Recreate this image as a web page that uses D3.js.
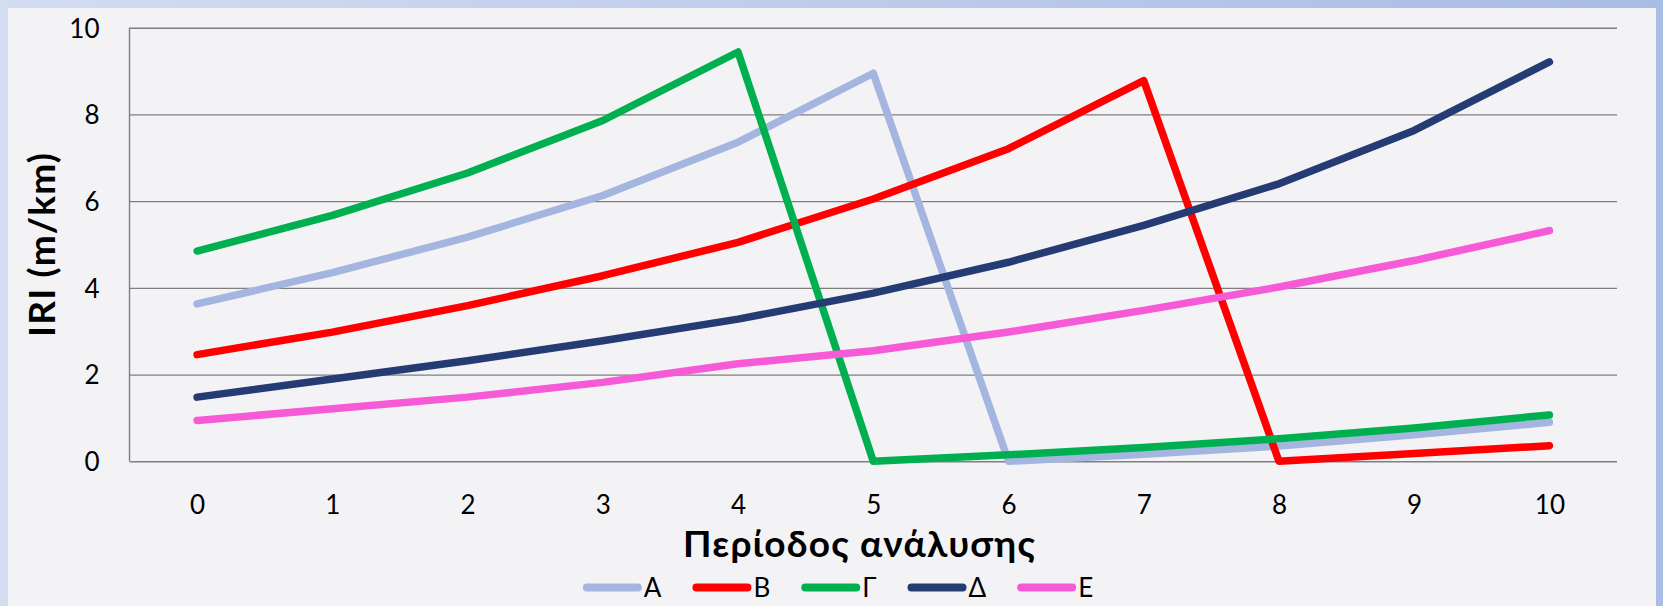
<!DOCTYPE html>
<html>
<head>
<meta charset="utf-8">
<script src="https://cdn.jsdelivr.net/npm/d3@7"></script>
<style>
  html, body { margin: 0; padding: 0; background: #f3f3f6; }
  svg { display: block; font-family: Lato, "Open Sans", "Noto Sans", sans-serif; }
</style>
</head>
<body>
<svg id="chart" width="1663" height="606"></svg>
<script>
// Analysis periods (x categories)
const periods = [0, 1, 2, 3, 4, 5, 6, 7, 8, 9, 10];

// IRI (m/km) per road section over the analysis period
const seriesNames = ["A", "B", "Γ", "Δ", "E"];
const valuesA = [3.63, 4.35, 5.17, 6.13, 7.36, 8.95, 0.00, 0.16, 0.35, 0.61, 0.90];
const valuesB = [2.46, 2.98, 3.59, 4.28, 5.05, 6.05, 7.21, 8.78, 0.00, 0.18, 0.36];
const valuesG = [4.85, 5.67, 6.65, 7.86, 9.44, 0.00, 0.15, 0.32, 0.52, 0.77, 1.07];
const valuesD = [1.48, 1.90, 2.32, 2.78, 3.28, 3.88, 4.59, 5.44, 6.40, 7.63, 9.21];
const valuesE = [0.94, 1.21, 1.48, 1.82, 2.25, 2.55, 2.98, 3.48, 4.02, 4.63, 5.32];
const seriesColors = ["#a4b6e0", "#ff0000", "#00b050", "#243c73", "#f65ad6"];

// Y axis ticks
const yTicks = [0, 2, 4, 6, 8, 10];

const xTitle = "Περίοδος ανάλυσης";
const yTitle = "IRI (m/km)";

const series = seriesNames.map((name, i) => ({
  name,
  color: seriesColors[i],
  values: [valuesA, valuesB, valuesG, valuesD, valuesE][i]
}));

const W = 1663, H = 606;
const plot = { left: 129.5, right: 1617, top: 27.7, bottom: 461.3 };

const svg = d3.select("#chart");

// Frame: blue gradient band behind a light panel
const defs = svg.append("defs");
const grad = defs.append("linearGradient").attr("id", "frameGrad")
  .attr("x1", "0").attr("x2", "1").attr("y1", "0").attr("y2", "0");
grad.append("stop").attr("offset", "0").attr("stop-color", "#d3dcf1");
grad.append("stop").attr("offset", "1").attr("stop-color", "#a9bce4");
svg.append("rect").attr("width", W).attr("height", H).attr("fill", "url(#frameGrad)");
svg.append("rect").attr("x", 8).attr("y", 8).attr("width", 1648).attr("height", H)
  .attr("fill", "#f3f3f6");

const x = d3.scalePoint().domain(periods).range([plot.left, plot.right]).padding(0.5);
const y = d3.scaleLinear().domain([0, 10]).range([plot.bottom, plot.top]);

// Horizontal gridlines with y tick labels
const yAxis = svg.append("g")
  .attr("transform", `translate(${plot.left},0)`)
  .call(d3.axisLeft(y).tickValues(yTicks).tickSize(-(plot.right - plot.left)).tickPadding(30));
yAxis.select(".domain").remove();
yAxis.selectAll(".tick line").attr("stroke", "#7f7f7f").attr("stroke-width", 1.4);
yAxis.selectAll(".tick text")
  .attr("font-size", 26).attr("fill", "#000").attr("dy", "0.36em")
  .attr("font-family", "Lato, 'Open Sans', sans-serif");

// Vertical axis line on the left of the plot
svg.append("line")
  .attr("x1", plot.left).attr("x2", plot.left)
  .attr("y1", plot.top).attr("y2", plot.bottom)
  .attr("stroke", "#7f7f7f").attr("stroke-width", 1.4);

// X tick labels
const xAxis = svg.append("g")
  .attr("transform", `translate(0,${plot.bottom})`)
  .call(d3.axisBottom(x).tickSize(0).tickPadding(34));
xAxis.select(".domain").remove();
xAxis.selectAll(".tick text")
  .attr("font-size", 26).attr("fill", "#000")
  .attr("font-family", "Lato, 'Open Sans', sans-serif");

// Series lines
const line = d3.line().x((d, i) => x(periods[i])).y(d => y(d));
svg.append("g").selectAll("path").data(series).join("path")
  .attr("d", d => line(d.values))
  .attr("fill", "none")
  .attr("stroke", d => d.color)
  .attr("stroke-width", 7.5)
  .attr("stroke-linejoin", "round")
  .attr("stroke-linecap", "round");

// Axis titles
svg.append("text")
  .attr("x", 859).attr("y", 557)
  .attr("text-anchor", "middle")
  .attr("font-size", 37).attr("font-weight", "bold").attr("fill", "#000")
  .attr("textLength", 352).attr("lengthAdjust", "spacing")
  .text(xTitle);

svg.append("text")
  .attr("transform", `translate(55,245) rotate(-90)`)
  .attr("text-anchor", "middle")
  .attr("font-size", 37).attr("font-weight", "bold").attr("fill", "#000")
  .attr("textLength", 184).attr("lengthAdjust", "spacing")
  .text(yTitle);

// Legend
const legend = svg.append("g");
const swatchLen = 59, textGap = 2, itemGap = 31, legendY = 587.5;
let cursor = 0;
const items = legend.selectAll("g").data(series).join("g");
items.append("line")
  .attr("x1", 4).attr("x2", swatchLen - 4)
  .attr("y1", 0).attr("y2", 0)
  .attr("stroke", d => d.color).attr("stroke-width", 8)
  .attr("stroke-linecap", "round");
items.append("text")
  .attr("x", swatchLen + textGap).attr("y", 0).attr("dy", "0.36em")
  .attr("font-size", 26).attr("fill", "#000")
  .text(d => d.name);
items.each(function () {
  const g = d3.select(this);
  g.attr("transform", `translate(${cursor},${legendY})`);
  const tw = g.select("text").node().getComputedTextLength();
  cursor += swatchLen + textGap + tw + itemGap;
});
const legendWidth = cursor - itemGap;
legend.attr("transform", `translate(${838 - legendWidth / 2},0)`);
</script>
</body>
</html>
